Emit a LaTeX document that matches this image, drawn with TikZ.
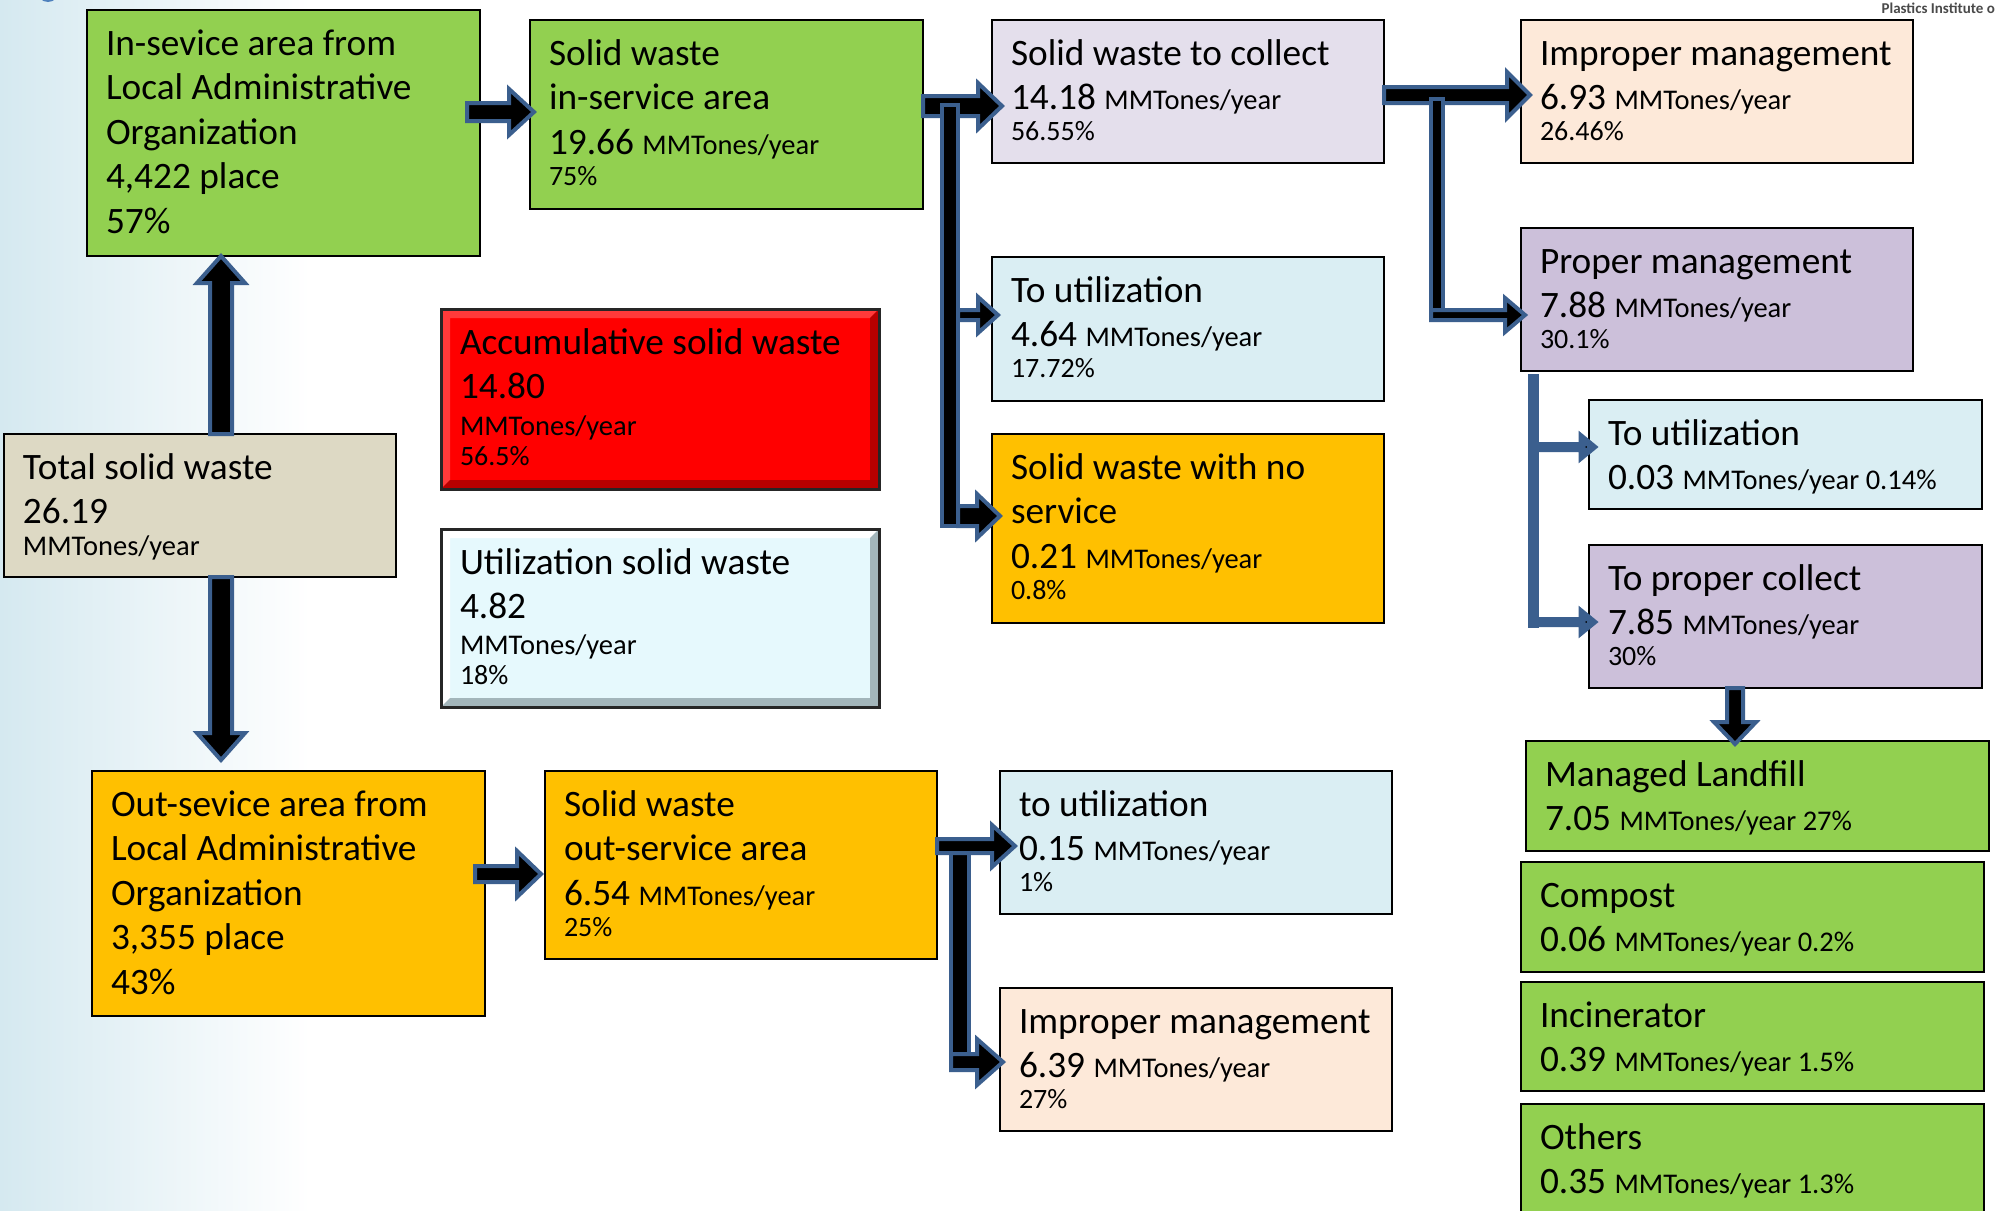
\documentclass[tikz,border=0pt]{standalone}
\usepackage{fontspec}
\setmainfont{Carlito}
\usetikzlibrary{calc}
\definecolor{cgreen}{HTML}{92D050}
\definecolor{clav}{HTML}{E4DFEC}
\definecolor{cpeach}{HTML}{FDE9D9}
\definecolor{cpurple}{HTML}{CCC0DA}
\definecolor{cltblue}{HTML}{DAEEF3}
\definecolor{corange}{HTML}{FFC000}
\definecolor{ctan}{HTML}{DDD9C4}
\definecolor{cred}{HTML}{FF0000}
\definecolor{credlt}{HTML}{FF3A3A}
\definecolor{creddk}{HTML}{B80000}
\definecolor{cutil}{HTML}{E6F9FD}
\definecolor{cutildk}{HTML}{A3B6BB}
\definecolor{arrblue}{HTML}{3B5F8E}
\definecolor{bgblue}{HTML}{D5E9F0}
\definecolor{dotblue}{HTML}{4F81BD}
\definecolor{credit}{HTML}{4A4A4A}

\newcommand\U[1]{{\fontsize{28.5}{31}\selectfont #1}}
\newcommand\Pc[1]{{\fontsize{28}{31}\selectfont #1}}
\newcommand\FB[6]{\node[box,fill=#6,minimum width={(#4)-(#2)},minimum height={(#5)-(#3)}] (#1) at ({((#2)+(#4))/2},{-((#3)+(#5))/2}) {};}
\newcommand\TX[3]{\node[txt] (#1) at ([shift={(19,-14)}]#2.north west) {\rule{0pt}{31pt}#3};}
\newcommand\RA[6][]{\path[blk,#1] let \p1=(#2), \p2=(#3) in (\x1,\y1+#4pt) -- (\x2-#6pt,\y1+#4pt) -- (\x2-#6pt,\y1+#5pt) -- (\x2,\y1) -- (\x2-#6pt,\y1-#5pt) -- (\x2-#6pt,\y1-#4pt) -- (\x1,\y1-#4pt) -- cycle;}
\newcommand\UA[6][]{\path[blk,#1] let \p1=(#2), \p2=(#3) in (\x1-#4pt,\y1) -- (\x1-#4pt,\y2-#6pt) -- (\x1-#5pt,\y2-#6pt) -- (\x1,\y2) -- (\x1+#5pt,\y2-#6pt) -- (\x1+#4pt,\y2-#6pt) -- (\x1+#4pt,\y1) -- cycle;}
\newcommand\DA[6][]{\path[blk,#1] let \p1=(#2), \p2=(#3) in (\x1-#4pt,\y1) -- (\x1-#4pt,\y2+#6pt) -- (\x1-#5pt,\y2+#6pt) -- (\x1,\y2) -- (\x1+#5pt,\y2+#6pt) -- (\x1+#4pt,\y2+#6pt) -- (\x1+#4pt,\y1) -- cycle;}
\newcommand\TR[4][]{\path[blk,#1] let \p1=(#2), \p2=(#3) in (\x1-#4pt,\y1) rectangle (\x1+#4pt,\y2);}
\newcommand\BEV[4]{%
 \fill[#3] let \p1=(#1.north west), \p2=(#1.south east) in (\x1,\y1) -- (\x2,\y1) -- (\x2-#2pt,\y1-#2pt) -- (\x1+#2pt,\y1-#2pt) -- (\x1+#2pt,\y2+#2pt) -- (\x1,\y2) -- cycle;
 \fill[#4] let \p1=(#1.north west), \p2=(#1.south east) in (\x2,\y2) -- (\x1,\y2) -- (\x1+#2pt,\y2+#2pt) -- (\x2-#2pt,\y2+#2pt) -- (\x2-#2pt,\y1-#2pt) -- (\x2,\y1) -- cycle;
 \draw[line width=3pt,black!85] (#1.north west) rectangle (#1.south east);}

\begin{document}
\begin{tikzpicture}[x=1pt,y=1pt,
  box/.style={draw=black,line width=1.8pt,inner sep=0pt,outer sep=0pt,rectangle},
  txt/.style={inner sep=0pt,outer sep=0pt,anchor=north west,align=left,font=\fontsize{37.3}{44.6}\selectfont,text=black},
  blk/.style={fill=black,draw=arrblue,line width=4pt,line join=miter},
  blkthin/.style={line width=7pt}]
\useasboundingbox (0,0) rectangle (1997,-1210);
\clip (0,0) rectangle (1997,-1210);
\fill[white] (0,0) rectangle (1997,-1210);
\shade[left color=bgblue,right color=white] (0,0) rectangle (310,-1210);
\fill[dotblue] (48,9) circle (11);
\node[anchor=east,inner sep=0pt,font=\fontsize{15}{16}\selectfont\bfseries,text=credit] (credit) at (1995,-8) {Plastics Institute o};

% boxes
\FB{b1}{87}{10}{480}{256}{cgreen}
\FB{b2}{530}{20}{923}{209}{cgreen}
\FB{b3}{992}{20}{1384}{163}{clav}
\FB{b4}{1521}{20}{1913}{163}{cpeach}
\FB{b5}{1521}{228}{1913}{371}{cpurple}
\FB{b6}{992}{257}{1384}{401}{cltblue}
\FB{b7}{441}{309}{879}{489}{cred}
\FB{b8}{441}{529}{879}{707}{cutil}
\FB{b9}{992}{434}{1384}{623}{corange}
\FB{b10}{4}{434}{396}{577}{ctan}
\FB{b11}{1589}{400}{1982}{509}{cltblue}
\FB{b12}{1589}{545}{1982}{688}{cpurple}
\FB{b13}{1526}{741}{1989}{851}{cgreen}
\FB{b14}{1521}{862}{1984}{972}{cgreen}
\FB{b15}{1521}{982}{1984}{1091}{cgreen}
\FB{b16}{1521}{1104}{1984}{1222}{cgreen}
\FB{b17}{92}{771}{485}{1016}{corange}
\FB{b18}{545}{771}{937}{959}{corange}
\FB{b19}{1000}{771}{1392}{914}{cltblue}
\FB{b20}{1000}{988}{1392}{1131}{cpeach}
\BEV{b7}{9}{credlt}{creddk}
\BEV{b8}{9}{white}{cutildk}

% texts
\TX{t1}{b1}{In-sevice area from\\Local Administrative\\Organization\\4,422 place\\57\%}
\TX{t2}{b2}{Solid waste\\in-service area\\19.66 \U{MMTones/year}\\[-13.6pt]\Pc{75\%}}
\TX{t3}{b3}{Solid waste to collect\\14.18 \U{MMTones/year}\\[-13.6pt]\Pc{56.55\%}}
\TX{t4}{b4}{Improper management\\6.93 \U{MMTones/year}\\[-13.6pt]\Pc{26.46\%}}
\TX{t5}{b5}{Proper management\\7.88 \U{MMTones/year}\\[-13.6pt]\Pc{30.1\%}}
\TX{t6}{b6}{To utilization\\4.64 \U{MMTones/year}\\[-13.6pt]\Pc{17.72\%}}
\TX{t7}{b7}{Accumulative solid waste\\14.80\\[-7.6pt]\U{MMTones/year}\\[-14.6pt]\Pc{56.5\%}}
\TX{t8}{b8}{Utilization solid waste\\4.82\\[-8.6pt]\U{MMTones/year}\\[-14.6pt]\Pc{18\%}}
\TX{t9}{b9}{Solid waste with no\\service\\0.21 \U{MMTones/year}\\[-13.6pt]\Pc{0.8\%}}
\TX{t10}{b10}{Total solid waste\\26.19\\[-12.6pt]\U{MMTones/year}}
\TX{t11}{b11}{To utilization\\0.03 \U{MMTones/year 0.14\%}}
\TX{t12}{b12}{To proper collect\\7.85 \U{MMTones/year}\\[-13.6pt]\Pc{30\%}}
\TX{t13}{b13}{Managed Landfill\\7.05 \U{MMTones/year 27\%}}
\TX{t14}{b14}{Compost\\0.06 \U{MMTones/year 0.2\%}}
\TX{t15}{b15}{Incinerator\\0.39 \U{MMTones/year 1.5\%}}
\TX{t16}{b16}{Others\\0.35 \U{MMTones/year 1.3\%}}
\TX{t17}{b17}{Out-sevice area from\\Local Administrative\\Organization\\3,355 place\\43\%}
\TX{t18}{b18}{Solid waste\\out-service area\\6.54 \U{MMTones/year}\\[-13.6pt]\Pc{25\%}}
\TX{t19}{b19}{to utilization\\0.15 \U{MMTones/year}\\[-13.6pt]\Pc{1\%}}
\TX{t20}{b20}{Improper management\\6.39 \U{MMTones/year}\\[-13.6pt]\Pc{27\%}}

% guide coordinates
\coordinate (xA) at (221,0);
\coordinate (yC) at (0,-112);
\coordinate (yD) at (0,-106);
\coordinate (xD) at (950,0);
\coordinate (yD6) at (0,-315);
\coordinate (yD9) at (0,-516);
\coordinate (yE) at (0,-95);
\coordinate (xE) at (1437,0);
\coordinate (yE5) at (0,-315);
\coordinate (xF) at (1533,0);
\coordinate (yF11) at (0,-447);
\coordinate (yF12) at (0,-622);
\coordinate (xG) at (1735,0);
\coordinate (yH) at (0,-874);
\coordinate (yI) at (0,-846);
\coordinate (xI) at (960,0);
\coordinate (yI20) at (0,-1062);

% arrows
\UA{b10.north -| xA}{b1.south -| xA}{11}{24}{27}
\DA{b10.south -| xA}{$(b17.north -| xA)+(0,11)$}{11}{24}{27}
\RA{$(b1.east |- yC)+(-13,0)$}{$(b2.west |- yC)+(4,0)$}{9}{23}{25}
\RA{b2.east |- yD}{$(b3.west |- yD)+(10,0)$}{10}{23}{24}
\TR{$(xD |- yD)+(0,1)$}{$(xD |- yD9)+(0,-10)$}{8}
\RA{$(xD |- yD6)+(8,0)$}{$(b6.west |- yD6)+(6,0)$}{5}{18}{20}
\RA{$(xD |- yD9)+(8,0)$}{$(b9.west |- yD9)+(8,0)$}{10}{22}{23}
\RA{b3.east |- yE}{$(b4.west |- yE)+(9,0)$}{8}{23}{23}
\TR{$(xE |- yE)+(0,-4)$}{$(xE |- yE5)+(0,-4)$}{6}
\RA{$(xE |- yE5)+(-6,0)$}{$(b5.west |- yE5)+(4,0)$}{5}{17}{20}
\TR[blkthin]{$(xF |- b5.south)+(0,-6)$}{$(xF |- yF12)+(0,-2)$}{2}
\RA[blkthin]{xF |- yF11}{$(b11.west |- yF11)+(4,0)$}{1.5}{9}{11}
\RA[blkthin]{xF |- yF12}{$(b12.west |- yF12)+(4,0)$}{1.5}{9}{11}
\DA{b12.south -| xG}{$(b13.north -| xG)+(0,-3)$}{8}{21}{22}
\RA{$(b17.east |- yH)+(-10,0)$}{$(b18.west |- yH)+(-4,0)$}{8}{23}{24}
\TR{$(xI |- yI)+(0,-7)$}{$(xI |- yI20)+(0,-8)$}{9}
\RA{b18.east |- yI}{$(b19.west |- yI)+(15,0)$}{7}{21}{23}
\RA{$(xI |- yI20)+(-9,0)$}{$(b20.west |- yI20)+(3,0)$}{8}{23}{26}
\end{tikzpicture}
\end{document}
